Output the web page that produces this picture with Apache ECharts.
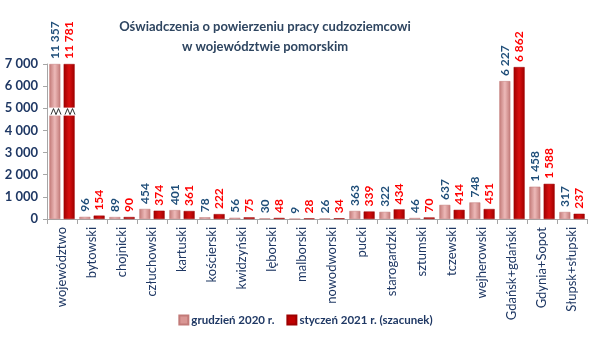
<!DOCTYPE html>
<html>
<head>
<meta charset="utf-8">
<script src="https://cdn.jsdelivr.net/npm/echarts@6/dist/echarts.min.js"></script>
<style>
  html, body { margin: 0; padding: 0; background: #fff; }
  #chart { width: 611px; height: 351px; }
</style>
</head>
<body>
<div id="chart"></div>
<script>
var categories = ['województwo', 'bytowski', 'chojnicki', 'człuchowski', 'kartuski', 'kościerski',
  'kwidzyński', 'lęborski', 'malborski', 'nowodworski', 'pucki', 'starogardzki', 'sztumski',
  'tczewski', 'wejherowski', 'Gdańsk+gdański', 'Gdynia+Sopot', 'Słupsk+słupski'];
var grudzien2020 = [11357, 96, 89, 454, 401, 78, 56, 30, 9, 26, 363, 322, 46, 637, 748, 6227, 1458, 317];
var styczen2021 = [11781, 154, 90, 374, 361, 222, 75, 48, 28, 34, 339, 434, 70, 414, 451, 6862, 1588, 237];
var seriesNames = ['grudzień 2020 r.', 'styczeń 2021 r. (szacunek)'];
var yMax = 7000;      // axis is cut here, larger bars are drawn with a break mark
var breakAt = 4850;

var navy = '#1F3864';
var font = 'Lato';

function fmt(v) {
  return String(v).replace(/\B(?=(\d{3})+(?!\d))/g, ' ');
}

function capped(arr) {
  return arr.map(function (v) { return { value: Math.min(v, yMax), real: v }; });
}

function barGrad(dark, light) {
  return new echarts.graphic.LinearGradient(0, 0, 1, 0, [
    { offset: 0, color: dark },
    { offset: 0.5, color: light },
    { offset: 1, color: dark }
  ]);
}

function makeSeries(name, arr, c1, c2, labelColor) {
  return {
    name: name,
    type: 'bar',
    barWidth: 11,
    barGap: '30%',
    data: capped(arr),
    itemStyle: { color: barGrad(c1, c2), borderColor: c1, borderWidth: 0.5 },
    label: {
      show: true,
      position: 'top',
      rotate: 90,
      align: 'left',
      verticalAlign: 'middle',
      distance: 5,
      color: labelColor,
      fontFamily: font,
      fontWeight: 'bold',
      fontSize: 12,
      formatter: function (p) { return fmt(p.data.real); }
    }
  };
}

var chart = echarts.init(document.getElementById('chart'));
var option = {
  animation: false,
  title: {
    text: 'Oświadczenia o powierzeniu pracy cudzoziemcowi\nw województwie pomorskim',
    left: 260,
    top: 12,
    textAlign: 'center',
    textStyle: { fontFamily: font, fontWeight: 'bold', fontSize: 13, color: '#2E4560', lineHeight: 20 }
  },
  legend: {
    bottom: 20,
    left: 'center',
    itemWidth: 9,
    itemHeight: 9,
    itemGap: 12,
    icon: 'rect',
    textStyle: { fontFamily: font, fontWeight: 'bold', fontSize: 11.5, color: navy, padding: [0, 0, 0, -2] },
    data: [
      { name: seriesNames[0], itemStyle: { color: '#D99694' } },
      { name: seriesNames[1], itemStyle: { color: '#C00000' } }
    ]
  },
  grid: { left: 47, right: 24, top: 64, bottom: 132 },
  xAxis: {
    type: 'category',
    data: categories,
    axisLine: { lineStyle: { color: '#A6A6A6' } },
    axisTick: { show: true, length: 5, lineStyle: { color: '#A6A6A6' } },
    axisLabel: { rotate: 90, interval: 0, margin: 8, color: navy, fontFamily: font, fontSize: 13 }
  },
  yAxis: {
    type: 'value',
    min: 0,
    max: yMax,
    interval: 1000,
    splitLine: { show: false },
    axisLine: { show: true, lineStyle: { color: '#A6A6A6' } },
    axisTick: { show: true, length: 4, lineStyle: { color: '#A6A6A6' } },
    axisLabel: {
      color: navy, fontFamily: font, fontWeight: 'bold', fontSize: 13, margin: 9,
      formatter: function (v) { return fmt(v); }
    }
  },
  series: [
    makeSeries(seriesNames[0], grudzien2020, '#C27A78', '#EDB9B8', '#1F4E79'),
    makeSeries(seriesNames[1], styczen2021, '#9E0000', '#D81010', '#FF0000')
  ]
};
chart.setOption(option);

// break marks on bars that go past the axis max
var marks = [];
categories.forEach(function (c, i) {
  if (Math.max(grudzien2020[i], styczen2021[i]) <= yMax) return;
  var p = chart.convertToPixel({ gridIndex: 0 }, [i, breakAt]);
  var x0 = p[0] - 14, y = p[1];
  marks.push({
    type: 'rect',
    z: 100,
    shape: { x: x0, y: y - 4, width: 29, height: 8 },
    style: { fill: '#fff' }
  });
  [x0 + 3, x0 + 17].forEach(function (sx) {
    marks.push({
      type: 'polyline',
      z: 101,
      shape: { points: [[sx, y + 3], [sx + 2.5, y - 3], [sx + 5, y + 3], [sx + 7.5, y - 3], [sx + 10, y + 3]] },
      style: { stroke: '#000', lineWidth: 0.8, fill: null }
    });
  });
});
chart.setOption({ graphic: { elements: marks } });
</script>
</body>
</html>
